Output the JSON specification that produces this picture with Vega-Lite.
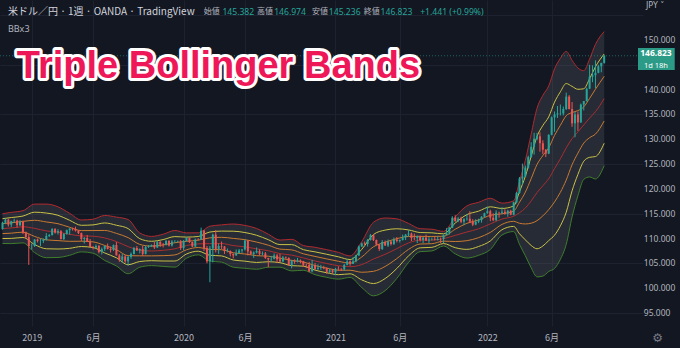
{
"$schema": "https://vega.github.io/schema/vega-lite/v6.json",
"width": 643, "height": 326, "autosize": "none",
"padding": {"left": 0, "top": 0, "right": 37, "bottom": 22},
"background": "#131722",
"config": {"view": {"stroke": null, "fill": "#131722"}, "font": "Noto Sans", "axis": {"labelFont": "Noto Sans CJK JP"}},
"datasets": {
"ticks": [{"v":95},{"v":100},{"v":105},{"v":110},{"v":115},{"v":120},{"v":125},{"v":130},{"v":135},{"v":140},{"v":150}],
"candles": [
{"d":"2018-10-29","o":111.9,"h":113.4,"l":111.8,"c":113.2},
{"d":"2018-11-05","o":113.2,"h":114.1,"l":112.9,"c":113.8},
{"d":"2018-11-12","o":113.8,"h":114.0,"l":112.4,"c":112.8},
{"d":"2018-11-19","o":112.8,"h":113.6,"l":112.3,"c":113.5},
{"d":"2018-11-26","o":113.5,"h":114.0,"l":113.2,"c":113.6},
{"d":"2018-12-03","o":113.6,"h":113.8,"l":112.2,"c":112.7},
{"d":"2018-12-10","o":112.7,"h":113.7,"l":112.5,"c":113.4},
{"d":"2018-12-17","o":113.4,"h":113.6,"l":110.9,"c":111.2},
{"d":"2018-12-24","o":111.2,"h":111.4,"l":110.0,"c":110.3},
{"d":"2018-12-31","o":110.3,"h":110.9,"l":104.7,"c":108.5},
{"d":"2019-01-07","o":108.5,"h":109.0,"l":107.8,"c":108.5},
{"d":"2019-01-14","o":108.5,"h":109.9,"l":108.3,"c":109.8},
{"d":"2019-01-21","o":109.8,"h":110.0,"l":109.2,"c":109.5},
{"d":"2019-01-28","o":109.5,"h":110.0,"l":108.5,"c":109.5},
{"d":"2019-02-04","o":109.5,"h":110.0,"l":109.1,"c":109.7},
{"d":"2019-02-11","o":109.7,"h":111.1,"l":109.6,"c":110.5},
{"d":"2019-02-18","o":110.5,"h":110.9,"l":110.3,"c":110.7},
{"d":"2019-02-25","o":110.7,"h":112.1,"l":110.6,"c":111.9},
{"d":"2019-03-04","o":111.9,"h":112.1,"l":111.0,"c":111.2},
{"d":"2019-03-11","o":111.2,"h":111.9,"l":110.8,"c":111.5},
{"d":"2019-03-18","o":111.5,"h":111.7,"l":109.8,"c":109.9},
{"d":"2019-03-25","o":109.9,"h":111.1,"l":109.7,"c":110.9},
{"d":"2019-04-01","o":110.9,"h":111.8,"l":110.8,"c":111.7},
{"d":"2019-04-08","o":111.7,"h":112.1,"l":110.8,"c":112.0},
{"d":"2019-04-15","o":112.0,"h":112.2,"l":111.6,"c":111.9},
{"d":"2019-04-22","o":111.9,"h":112.4,"l":111.4,"c":111.6},
{"d":"2019-04-29","o":111.6,"h":111.7,"l":110.9,"c":111.1},
{"d":"2019-05-06","o":111.1,"h":111.2,"l":109.5,"c":109.9},
{"d":"2019-05-13","o":109.9,"h":110.3,"l":109.0,"c":110.1},
{"d":"2019-05-20","o":110.1,"h":110.7,"l":109.3,"c":109.3},
{"d":"2019-05-27","o":109.3,"h":109.9,"l":108.3,"c":108.3},
{"d":"2019-06-03","o":108.3,"h":108.5,"l":107.8,"c":108.2},
{"d":"2019-06-10","o":108.2,"h":108.8,"l":108.0,"c":108.5},
{"d":"2019-06-17","o":108.5,"h":108.7,"l":107.0,"c":107.3},
{"d":"2019-06-24","o":107.3,"h":108.2,"l":106.8,"c":107.9},
{"d":"2019-07-01","o":107.9,"h":108.6,"l":107.5,"c":108.5},
{"d":"2019-07-08","o":108.5,"h":109.0,"l":107.8,"c":107.9},
{"d":"2019-07-15","o":107.9,"h":108.4,"l":107.2,"c":107.7},
{"d":"2019-07-22","o":107.7,"h":108.8,"l":107.5,"c":108.7},
{"d":"2019-07-29","o":108.7,"h":109.3,"l":106.6,"c":106.6},
{"d":"2019-08-05","o":106.6,"h":106.9,"l":105.3,"c":105.7},
{"d":"2019-08-12","o":105.7,"h":106.9,"l":105.1,"c":106.4},
{"d":"2019-08-19","o":106.4,"h":106.7,"l":105.1,"c":105.4},
{"d":"2019-08-26","o":105.4,"h":106.5,"l":104.5,"c":106.3},
{"d":"2019-09-02","o":106.3,"h":107.2,"l":105.9,"c":106.9},
{"d":"2019-09-09","o":106.9,"h":108.3,"l":106.8,"c":108.1},
{"d":"2019-09-16","o":108.1,"h":108.5,"l":107.5,"c":107.6},
{"d":"2019-09-23","o":107.6,"h":108.0,"l":107.0,"c":107.9},
{"d":"2019-09-30","o":107.9,"h":108.5,"l":106.5,"c":106.9},
{"d":"2019-10-07","o":106.9,"h":108.6,"l":106.8,"c":108.3},
{"d":"2019-10-14","o":108.3,"h":108.7,"l":108.1,"c":108.4},
{"d":"2019-10-21","o":108.4,"h":108.8,"l":108.3,"c":108.7},
{"d":"2019-10-28","o":108.7,"h":109.3,"l":107.9,"c":108.2},
{"d":"2019-11-04","o":108.2,"h":109.5,"l":108.1,"c":109.3},
{"d":"2019-11-11","o":109.3,"h":109.5,"l":108.3,"c":108.8},
{"d":"2019-11-18","o":108.8,"h":109.1,"l":108.2,"c":108.7},
{"d":"2019-11-25","o":108.7,"h":109.7,"l":108.6,"c":109.5},
{"d":"2019-12-02","o":109.5,"h":109.7,"l":108.4,"c":108.6},
{"d":"2019-12-09","o":108.6,"h":109.7,"l":108.4,"c":109.4},
{"d":"2019-12-16","o":109.4,"h":109.7,"l":109.2,"c":109.4},
{"d":"2019-12-23","o":109.4,"h":109.6,"l":109.2,"c":109.45},
{"d":"2019-12-30","o":109.4,"h":109.7,"l":107.7,"c":108.1},
{"d":"2020-01-06","o":108.1,"h":109.7,"l":107.6,"c":109.5},
{"d":"2020-01-13","o":109.5,"h":110.3,"l":109.4,"c":110.1},
{"d":"2020-01-20","o":110.1,"h":110.2,"l":109.1,"c":109.3},
{"d":"2020-01-27","o":109.3,"h":109.4,"l":108.3,"c":108.4},
{"d":"2020-02-03","o":108.4,"h":110.0,"l":108.3,"c":109.8},
{"d":"2020-02-10","o":109.8,"h":110.1,"l":109.6,"c":109.75},
{"d":"2020-02-17","o":109.8,"h":112.2,"l":109.7,"c":111.6},
{"d":"2020-02-24","o":111.6,"h":111.7,"l":107.5,"c":108.1},
{"d":"2020-03-02","o":108.1,"h":108.5,"l":105.0,"c":105.4},
{"d":"2020-03-09","o":105.4,"h":108.5,"l":101.2,"c":108.0},
{"d":"2020-03-16","o":108.0,"h":111.0,"l":105.2,"c":110.8},
{"d":"2020-03-23","o":110.8,"h":111.7,"l":107.2,"c":107.9},
{"d":"2020-03-30","o":107.9,"h":109.0,"l":106.9,"c":108.5},
{"d":"2020-04-06","o":108.5,"h":109.4,"l":107.9,"c":108.4},
{"d":"2020-04-13","o":108.4,"h":108.5,"l":106.9,"c":107.5},
{"d":"2020-04-20","o":107.5,"h":108.0,"l":107.2,"c":107.55},
{"d":"2020-04-27","o":107.5,"h":107.6,"l":106.4,"c":106.9},
{"d":"2020-05-04","o":106.9,"h":107.0,"l":106.0,"c":106.6},
{"d":"2020-05-11","o":106.6,"h":107.8,"l":106.5,"c":107.1},
{"d":"2020-05-18","o":107.1,"h":107.9,"l":107.0,"c":107.6},
{"d":"2020-05-25","o":107.6,"h":107.9,"l":107.1,"c":107.8},
{"d":"2020-06-01","o":107.8,"h":109.8,"l":107.6,"c":109.6},
{"d":"2020-06-08","o":109.6,"h":109.7,"l":106.6,"c":107.4},
{"d":"2020-06-15","o":107.4,"h":107.6,"l":106.7,"c":106.9},
{"d":"2020-06-22","o":106.9,"h":107.4,"l":106.1,"c":107.2},
{"d":"2020-06-29","o":107.2,"h":108.2,"l":107.0,"c":107.5},
{"d":"2020-07-06","o":107.5,"h":107.8,"l":106.6,"c":106.9},
{"d":"2020-07-13","o":106.9,"h":107.4,"l":106.6,"c":107.0},
{"d":"2020-07-20","o":107.0,"h":107.3,"l":105.9,"c":106.1},
{"d":"2020-07-27","o":106.1,"h":106.1,"l":104.2,"c":105.8},
{"d":"2020-08-03","o":105.8,"h":106.5,"l":105.3,"c":105.9},
{"d":"2020-08-10","o":105.9,"h":107.0,"l":105.8,"c":106.6},
{"d":"2020-08-17","o":106.6,"h":106.9,"l":105.1,"c":105.8},
{"d":"2020-08-24","o":105.8,"h":106.9,"l":105.2,"c":105.4},
{"d":"2020-08-31","o":105.4,"h":106.5,"l":105.2,"c":106.2},
{"d":"2020-09-07","o":106.2,"h":106.4,"l":105.9,"c":106.1},
{"d":"2020-09-14","o":106.1,"h":106.2,"l":104.6,"c":104.6},
{"d":"2020-09-21","o":104.6,"h":105.7,"l":104.0,"c":105.6},
{"d":"2020-09-28","o":105.6,"h":105.8,"l":104.9,"c":105.3},
{"d":"2020-10-05","o":105.3,"h":106.1,"l":105.2,"c":105.6},
{"d":"2020-10-12","o":105.6,"h":105.8,"l":105.0,"c":105.4},
{"d":"2020-10-19","o":105.4,"h":105.5,"l":104.3,"c":104.7},
{"d":"2020-10-26","o":104.7,"h":104.9,"l":104.0,"c":104.65},
{"d":"2020-11-02","o":104.7,"h":105.3,"l":103.2,"c":103.4},
{"d":"2020-11-09","o":103.4,"h":105.7,"l":103.2,"c":104.6},
{"d":"2020-11-16","o":104.6,"h":105.1,"l":103.7,"c":103.9},
{"d":"2020-11-23","o":103.9,"h":104.8,"l":103.7,"c":104.1},
{"d":"2020-11-30","o":104.1,"h":104.7,"l":103.7,"c":104.2},
{"d":"2020-12-07","o":104.2,"h":104.5,"l":103.8,"c":104.0},
{"d":"2020-12-14","o":104.0,"h":104.2,"l":102.9,"c":103.3},
{"d":"2020-12-21","o":103.3,"h":103.9,"l":103.0,"c":103.6},
{"d":"2020-12-28","o":103.6,"h":103.9,"l":102.9,"c":103.2},
{"d":"2021-01-04","o":103.2,"h":104.1,"l":102.6,"c":103.9},
{"d":"2021-01-11","o":103.9,"h":104.4,"l":103.5,"c":103.85},
{"d":"2021-01-18","o":103.9,"h":104.0,"l":103.5,"c":103.8},
{"d":"2021-01-25","o":103.8,"h":104.9,"l":103.5,"c":104.7},
{"d":"2021-02-01","o":104.7,"h":105.8,"l":104.6,"c":105.4},
{"d":"2021-02-08","o":105.4,"h":105.6,"l":104.5,"c":104.9},
{"d":"2021-02-15","o":104.9,"h":106.2,"l":104.9,"c":105.4},
{"d":"2021-02-22","o":105.4,"h":106.7,"l":105.2,"c":106.6},
{"d":"2021-03-01","o":106.6,"h":108.6,"l":106.5,"c":108.4},
{"d":"2021-03-08","o":108.4,"h":109.2,"l":108.3,"c":109.0},
{"d":"2021-03-15","o":109.0,"h":109.4,"l":108.6,"c":108.9},
{"d":"2021-03-22","o":108.9,"h":109.9,"l":108.4,"c":109.7},
{"d":"2021-03-29","o":109.7,"h":110.9,"l":109.6,"c":110.7},
{"d":"2021-04-05","o":110.7,"h":110.9,"l":109.5,"c":109.7},
{"d":"2021-04-12","o":109.7,"h":109.8,"l":108.6,"c":108.8},
{"d":"2021-04-19","o":108.8,"h":108.9,"l":107.5,"c":107.9},
{"d":"2021-04-26","o":107.9,"h":109.7,"l":107.7,"c":109.3},
{"d":"2021-05-03","o":109.3,"h":109.6,"l":108.5,"c":108.6},
{"d":"2021-05-10","o":108.6,"h":109.8,"l":108.3,"c":109.4},
{"d":"2021-05-17","o":109.4,"h":109.5,"l":108.6,"c":108.9},
{"d":"2021-05-24","o":108.9,"h":110.2,"l":108.7,"c":109.8},
{"d":"2021-05-31","o":109.8,"h":110.3,"l":109.2,"c":109.5},
{"d":"2021-06-07","o":109.5,"h":109.8,"l":109.2,"c":109.7},
{"d":"2021-06-14","o":109.7,"h":110.8,"l":109.6,"c":110.2},
{"d":"2021-06-21","o":110.2,"h":110.9,"l":109.7,"c":110.8},
{"d":"2021-06-28","o":110.8,"h":111.7,"l":110.4,"c":111.0},
{"d":"2021-07-05","o":111.0,"h":111.2,"l":109.5,"c":110.1},
{"d":"2021-07-12","o":110.1,"h":111.0,"l":109.7,"c":110.05},
{"d":"2021-07-19","o":110.1,"h":110.6,"l":109.1,"c":110.5},
{"d":"2021-07-26","o":110.5,"h":110.6,"l":109.4,"c":109.7},
{"d":"2021-08-02","o":109.7,"h":110.3,"l":109.1,"c":110.2},
{"d":"2021-08-09","o":110.2,"h":110.8,"l":109.5,"c":109.6},
{"d":"2021-08-16","o":109.6,"h":110.3,"l":109.1,"c":109.8},
{"d":"2021-08-23","o":109.8,"h":110.2,"l":109.6,"c":109.85},
{"d":"2021-08-30","o":109.8,"h":110.4,"l":109.6,"c":109.7},
{"d":"2021-09-06","o":109.7,"h":110.4,"l":109.6,"c":109.9},
{"d":"2021-09-13","o":109.9,"h":110.2,"l":109.1,"c":109.85},
{"d":"2021-09-20","o":109.9,"h":110.8,"l":109.1,"c":110.7},
{"d":"2021-09-27","o":110.7,"h":112.1,"l":110.7,"c":111.1},
{"d":"2021-10-04","o":111.1,"h":112.3,"l":110.8,"c":112.2},
{"d":"2021-10-11","o":112.2,"h":114.5,"l":112.1,"c":114.2},
{"d":"2021-10-18","o":114.2,"h":114.7,"l":113.4,"c":113.5},
{"d":"2021-10-25","o":113.5,"h":114.3,"l":113.3,"c":114.0},
{"d":"2021-11-01","o":114.0,"h":114.4,"l":113.1,"c":113.4},
{"d":"2021-11-08","o":113.4,"h":114.1,"l":112.7,"c":113.9},
{"d":"2021-11-15","o":113.9,"h":114.9,"l":113.6,"c":114.0},
{"d":"2021-11-22","o":114.0,"h":115.5,"l":113.1,"c":113.4},
{"d":"2021-11-29","o":113.4,"h":113.9,"l":112.5,"c":112.8},
{"d":"2021-12-06","o":112.8,"h":113.9,"l":112.7,"c":113.4},
{"d":"2021-12-13","o":113.4,"h":114.0,"l":113.1,"c":113.7},
{"d":"2021-12-20","o":113.7,"h":114.5,"l":113.2,"c":114.4},
{"d":"2021-12-27","o":114.4,"h":115.2,"l":114.3,"c":115.1},
{"d":"2022-01-03","o":115.1,"h":116.4,"l":115.0,"c":115.5},
{"d":"2022-01-10","o":115.5,"h":115.8,"l":113.5,"c":114.2},
{"d":"2022-01-17","o":114.2,"h":115.1,"l":113.5,"c":113.7},
{"d":"2022-01-24","o":113.7,"h":115.7,"l":113.5,"c":115.2},
{"d":"2022-01-31","o":115.2,"h":115.4,"l":114.2,"c":115.15},
{"d":"2022-02-07","o":115.2,"h":116.3,"l":114.9,"c":115.4},
{"d":"2022-02-14","o":115.4,"h":115.9,"l":114.8,"c":115.0},
{"d":"2022-02-21","o":115.0,"h":115.8,"l":114.4,"c":115.6},
{"d":"2022-02-28","o":115.6,"h":115.8,"l":114.7,"c":114.8},
{"d":"2022-03-07","o":114.8,"h":117.4,"l":114.7,"c":117.3},
{"d":"2022-03-14","o":117.3,"h":119.4,"l":117.1,"c":119.2},
{"d":"2022-03-21","o":119.2,"h":122.4,"l":119.0,"c":122.1},
{"d":"2022-03-28","o":122.1,"h":125.1,"l":121.0,"c":122.5},
{"d":"2022-04-04","o":122.5,"h":124.7,"l":122.4,"c":124.3},
{"d":"2022-04-11","o":124.3,"h":126.7,"l":124.1,"c":126.4},
{"d":"2022-04-18","o":126.4,"h":129.4,"l":126.3,"c":128.5},
{"d":"2022-04-25","o":128.5,"h":131.3,"l":126.9,"c":130.1},
{"d":"2022-05-02","o":130.1,"h":131.3,"l":129.8,"c":130.6},
{"d":"2022-05-09","o":130.6,"h":131.4,"l":127.5,"c":129.2},
{"d":"2022-05-16","o":129.2,"h":129.8,"l":127.0,"c":127.9},
{"d":"2022-05-23","o":127.9,"h":128.0,"l":126.4,"c":127.1},
{"d":"2022-05-30","o":127.1,"h":131.0,"l":127.0,"c":130.9},
{"d":"2022-06-06","o":130.9,"h":134.6,"l":130.8,"c":134.4},
{"d":"2022-06-13","o":134.4,"h":135.6,"l":131.5,"c":135.0},
{"d":"2022-06-20","o":135.0,"h":136.7,"l":134.3,"c":135.2},
{"d":"2022-06-27","o":135.2,"h":137.0,"l":134.8,"c":135.25},
{"d":"2022-07-04","o":135.2,"h":136.6,"l":134.8,"c":136.1},
{"d":"2022-07-11","o":136.1,"h":139.4,"l":135.9,"c":138.6},
{"d":"2022-07-18","o":138.6,"h":138.9,"l":136.0,"c":136.1},
{"d":"2022-07-25","o":136.1,"h":137.5,"l":132.5,"c":133.2},
{"d":"2022-08-01","o":133.2,"h":135.6,"l":130.4,"c":135.0},
{"d":"2022-08-08","o":135.0,"h":135.6,"l":131.7,"c":133.4},
{"d":"2022-08-15","o":133.4,"h":137.2,"l":133.3,"c":137.0},
{"d":"2022-08-22","o":137.0,"h":137.7,"l":135.8,"c":137.7},
{"d":"2022-08-29","o":137.7,"h":140.4,"l":137.6,"c":140.2},
{"d":"2022-09-05","o":140.2,"h":145.0,"l":140.1,"c":142.6},
{"d":"2022-09-12","o":142.6,"h":144.9,"l":141.5,"c":142.9},
{"d":"2022-09-19","o":142.9,"h":145.9,"l":140.3,"c":143.4},
{"d":"2022-09-26","o":143.4,"h":145.0,"l":143.3,"c":144.7},
{"d":"2022-10-03","o":144.7,"h":145.4,"l":143.5,"c":145.4},
{"d":"2022-10-10","o":145.382,"h":146.974,"l":145.236,"c":146.823}
],
"bands": [
{"d":"2018-10-29","u3":115.0,"u2":114.0,"u1":113.0,"m":112.0,"l1":111.0,"l2":110.0,"l3":109.0},
{"d":"2018-11-19","u3":115.28,"u2":114.23,"u1":113.18,"m":112.13,"l1":111.08,"l2":110.03,"l3":108.98},
{"d":"2018-12-17","u3":115.61,"u2":114.53,"u1":113.45,"m":112.37,"l1":111.29,"l2":110.21,"l3":109.13},
{"d":"2019-01-14","u3":116.94,"u2":115.31,"u1":113.68,"m":112.05,"l1":110.42,"l2":108.79,"l3":107.16},
{"d":"2019-02-11","u3":116.94,"u2":115.14,"u1":113.34,"m":111.54,"l1":109.74,"l2":107.94,"l3":106.14},
{"d":"2019-03-11","u3":116.39,"u2":114.69,"u1":112.99,"m":111.29,"l1":109.59,"l2":107.89,"l3":106.19},
{"d":"2019-04-08","u3":115.08,"u2":113.67,"u1":112.26,"m":110.85,"l1":109.44,"l2":108.03,"l3":106.62},
{"d":"2019-05-06","u3":113.74,"u2":112.67,"u1":111.6,"m":110.53,"l1":109.46,"l2":108.39,"l3":107.32},
{"d":"2019-06-03","u3":113.89,"u2":112.75,"u1":111.61,"m":110.47,"l1":109.33,"l2":108.19,"l3":107.05},
{"d":"2019-07-01","u3":114.65,"u2":113.14,"u1":111.63,"m":110.12,"l1":108.61,"l2":107.1,"l3":105.59},
{"d":"2019-07-29","u3":114.32,"u2":112.68,"u1":111.04,"m":109.4,"l1":107.76,"l2":106.12,"l3":104.48},
{"d":"2019-08-26","u3":113.83,"u2":112.01,"u1":110.19,"m":108.37,"l1":106.55,"l2":104.73,"l3":102.91},
{"d":"2019-09-23","u3":111.12,"u2":109.97,"u1":108.82,"m":107.67,"l1":106.52,"l2":105.37,"l3":104.22},
{"d":"2019-10-21","u3":110.43,"u2":109.45,"u1":108.47,"m":107.49,"l1":106.51,"l2":105.53,"l3":104.55},
{"d":"2019-11-18","u3":110.87,"u2":109.79,"u1":108.71,"m":107.63,"l1":106.55,"l2":105.47,"l3":104.39},
{"d":"2019-12-16","u3":111.62,"u2":110.39,"u1":109.16,"m":107.93,"l1":106.7,"l2":105.47,"l3":104.24},
{"d":"2020-01-13","u3":111.14,"u2":110.29,"u1":109.44,"m":108.59,"l1":107.74,"l2":106.89,"l3":106.04},
{"d":"2020-02-10","u3":111.15,"u2":110.41,"u1":109.67,"m":108.93,"l1":108.19,"l2":107.45,"l3":106.71},
{"d":"2020-03-09","u3":112.48,"u2":111.31,"u1":110.14,"m":108.97,"l1":107.8,"l2":106.63,"l3":105.46},
{"d":"2020-04-06","u3":112.75,"u2":111.5,"u1":110.25,"m":109.0,"l1":107.75,"l2":106.5,"l3":105.25},
{"d":"2020-05-04","u3":112.93,"u2":111.48,"u1":110.03,"m":108.58,"l1":107.13,"l2":105.68,"l3":104.23},
{"d":"2020-06-01","u3":112.65,"u2":111.21,"u1":109.77,"m":108.33,"l1":106.89,"l2":105.45,"l3":104.01},
{"d":"2020-06-29","u3":112.03,"u2":110.66,"u1":109.29,"m":107.92,"l1":106.55,"l2":105.18,"l3":103.81},
{"d":"2020-07-27","u3":110.88,"u2":109.77,"u1":108.66,"m":107.55,"l1":106.44,"l2":105.33,"l3":104.22},
{"d":"2020-08-24","u3":109.69,"u2":108.78,"u1":107.87,"m":106.96,"l1":106.05,"l2":105.14,"l3":104.23},
{"d":"2020-09-21","u3":109.84,"u2":108.78,"u1":107.72,"m":106.66,"l1":105.6,"l2":104.54,"l3":103.48},
{"d":"2020-10-19","u3":108.59,"u2":107.76,"u1":106.93,"m":106.1,"l1":105.27,"l2":104.44,"l3":103.61},
{"d":"2020-11-16","u3":108.24,"u2":107.32,"u1":106.4,"m":105.48,"l1":104.56,"l2":103.64,"l3":102.72},
{"d":"2020-12-14","u3":107.76,"u2":106.83,"u1":105.9,"m":104.97,"l1":104.04,"l2":103.11,"l3":102.18},
{"d":"2021-01-11","u3":107.22,"u2":106.32,"u1":105.42,"m":104.52,"l1":103.62,"l2":102.72,"l3":101.82},
{"d":"2021-02-08","u3":106.49,"u2":105.77,"u1":105.05,"m":104.33,"l1":103.61,"l2":102.89,"l3":102.17},
{"d":"2021-03-08","u3":109.37,"u2":107.83,"u1":106.29,"m":104.75,"l1":103.21,"l2":101.67,"l3":100.13},
{"d":"2021-04-05","u3":113.28,"u2":110.81,"u1":108.34,"m":105.87,"l1":103.4,"l2":100.93,"l3":98.46},
{"d":"2021-05-03","u3":114.14,"u2":111.7,"u1":109.26,"m":106.82,"l1":104.38,"l2":101.94,"l3":99.5},
{"d":"2021-05-31","u3":113.97,"u2":111.97,"u1":109.97,"m":107.97,"l1":105.97,"l2":103.97,"l3":101.97},
{"d":"2021-06-28","u3":113.05,"u2":111.74,"u1":110.43,"m":109.12,"l1":107.81,"l2":106.5,"l3":105.19},
{"d":"2021-07-26","u3":111.98,"u2":111.21,"u1":110.44,"m":109.67,"l1":108.9,"l2":108.13,"l3":107.36},
{"d":"2021-08-23","u3":111.88,"u2":111.15,"u1":110.42,"m":109.69,"l1":108.96,"l2":108.23,"l3":107.5},
{"d":"2021-09-20","u3":111.44,"u2":110.95,"u1":110.46,"m":109.97,"l1":109.48,"l2":108.99,"l3":108.5},
{"d":"2021-10-18","u3":114.36,"u2":113.12,"u1":111.88,"m":110.64,"l1":109.4,"l2":108.16,"l3":106.92},
{"d":"2021-11-15","u3":116.57,"u2":114.82,"u1":113.07,"m":111.32,"l1":109.57,"l2":107.82,"l3":106.07},
{"d":"2021-12-13","u3":117.3,"u2":115.52,"u1":113.74,"m":111.96,"l1":110.18,"l2":108.4,"l3":106.62},
{"d":"2022-01-10","u3":118.11,"u2":116.39,"u1":114.67,"m":112.95,"l1":111.23,"l2":109.51,"l3":107.79},
{"d":"2022-02-07","u3":117.13,"u2":116.06,"u1":114.99,"m":113.92,"l1":112.85,"l2":111.78,"l3":110.71},
{"d":"2022-03-07","u3":117.59,"u2":116.56,"u1":115.53,"m":114.5,"l1":113.47,"l2":112.44,"l3":111.41},
{"d":"2022-03-21","u3":121.56,"u2":119.44,"u1":117.32,"m":115.2,"l1":113.08,"l2":110.96,"l3":108.84},
{"d":"2022-04-04","u3":125.74,"u2":122.54,"u1":119.34,"m":116.14,"l1":112.94,"l2":109.74,"l3":106.54},
{"d":"2022-04-18","u3":131.05,"u2":126.56,"u1":122.07,"m":117.58,"l1":113.09,"l2":108.6,"l3":104.11},
{"d":"2022-05-02","u3":136.24,"u2":130.58,"u1":124.92,"m":119.26,"l1":113.6,"l2":107.94,"l3":102.28},
{"d":"2022-05-16","u3":138.85,"u2":132.78,"u1":126.71,"m":120.64,"l1":114.57,"l2":108.5,"l3":102.43},
{"d":"2022-05-30","u3":140.74,"u2":134.51,"u1":128.28,"m":122.05,"l1":115.82,"l2":109.59,"l3":103.36},
{"d":"2022-06-13","u3":144.18,"u2":137.48,"u1":130.78,"m":124.08,"l1":117.38,"l2":110.68,"l3":103.98},
{"d":"2022-06-27","u3":146.32,"u2":139.57,"u1":132.82,"m":126.07,"l1":119.32,"l2":112.57,"l3":105.82},
{"d":"2022-07-11","u3":147.71,"u2":141.23,"u1":134.75,"m":128.27,"l1":121.79,"l2":115.31,"l3":108.83},
{"d":"2022-07-25","u3":145.91,"u2":140.65,"u1":135.39,"m":130.13,"l1":124.87,"l2":119.61,"l3":114.35},
{"d":"2022-08-08","u3":144.36,"u2":140.07,"u1":135.78,"m":131.49,"l1":127.2,"l2":122.91,"l3":118.62},
{"d":"2022-08-22","u3":143.83,"u2":140.18,"u1":136.53,"m":132.88,"l1":129.23,"l2":125.58,"l3":121.93},
{"d":"2022-09-05","u3":146.16,"u2":142.2,"u1":138.24,"m":134.28,"l1":130.32,"l2":126.36,"l3":122.4},
{"d":"2022-09-19","u3":149.12,"u2":144.6,"u1":140.08,"m":135.56,"l1":131.04,"l2":126.52,"l3":122.0},
{"d":"2022-10-10","u3":151.69,"u2":147.19,"u1":142.69,"m":138.19,"l1":133.69,"l2":129.19,"l3":124.69}
]
},
"layer": [
{"data": {"name": "bands"},
 "mark": {"type": "area", "interpolate": "monotone", "color": "#787b86", "opacity": 0.2},
 "encoding": {
  "x": {"field": "d", "type": "temporal",
   "scale": {"type": "utc", "domain": [{"year": 2018, "month": 11, "date": 4, "utc": true}, {"year": 2022, "month": 12, "date": 30, "utc": true}]},
   "axis": {"title": null, "orient": "bottom", "values": [{"year": 2019, "month": 1, "date": 7, "utc": true}, {"year": 2019, "month": 6, "date": 3, "utc": true}, {"year": 2020, "month": 1, "date": 6, "utc": true}, {"year": 2020, "month": 6, "date": 1, "utc": true}, {"year": 2021, "month": 1, "date": 4, "utc": true}, {"year": 2021, "month": 6, "date": 7, "utc": true}, {"year": 2022, "month": 1, "date": 3, "utc": true}, {"year": 2022, "month": 6, "date": 6, "utc": true}],
    "labelExpr": "utcmonth(datum.value) == 0 ? '' + utcyear(datum.value) : '6月'",
    "grid": true, "gridColor": "#1e2230", "domain": false, "ticks": false, "labelColor": "#b2b5be", "labelFontSize": 9, "labelPadding": 7, "labelFlush": false, "labelOverlap": false}},
  "y": {"field": "u3", "type": "quantitative",
   "scale": {"domain": [92.38, 158.06], "nice": false, "zero": false},
   "axis": {"title": null, "orient": "right", "values": [95, 100, 105, 110, 115, 120, 125, 130, 135, 140, 145, 150, 155], "grid": true, "gridColor": "#1e2230", "domain": false, "ticks": false, "labels": false}},
  "y2": {"field": "l3"}}},
{"data": {"name": "bands"}, "mark": {"type": "line", "interpolate": "monotone", "color": "#b02a2e", "strokeWidth": 1},
 "encoding": {"x": {"field": "d", "type": "temporal"}, "y": {"field": "u3", "type": "quantitative"}}},
{"data": {"name": "bands"}, "mark": {"type": "line", "interpolate": "monotone", "color": "#c9c245", "strokeWidth": 1},
 "encoding": {"x": {"field": "d", "type": "temporal"}, "y": {"field": "u2", "type": "quantitative"}}},
{"data": {"name": "bands"}, "mark": {"type": "line", "interpolate": "monotone", "color": "#c87a30", "strokeWidth": 1},
 "encoding": {"x": {"field": "d", "type": "temporal"}, "y": {"field": "u1", "type": "quantitative"}}},
{"data": {"name": "bands"}, "mark": {"type": "line", "interpolate": "monotone", "color": "#a82e30", "strokeWidth": 1},
 "encoding": {"x": {"field": "d", "type": "temporal"}, "y": {"field": "m", "type": "quantitative"}}},
{"data": {"name": "bands"}, "mark": {"type": "line", "interpolate": "monotone", "color": "#c87a30", "strokeWidth": 1},
 "encoding": {"x": {"field": "d", "type": "temporal"}, "y": {"field": "l1", "type": "quantitative"}}},
{"data": {"name": "bands"}, "mark": {"type": "line", "interpolate": "monotone", "color": "#c9c245", "strokeWidth": 1},
 "encoding": {"x": {"field": "d", "type": "temporal"}, "y": {"field": "l2", "type": "quantitative"}}},
{"data": {"name": "bands"}, "mark": {"type": "line", "interpolate": "monotone", "color": "#3f7d2c", "strokeWidth": 1},
 "encoding": {"x": {"field": "d", "type": "temporal"}, "y": {"field": "l3", "type": "quantitative"}}},
{"data": {"values": [{}]}, "mark": {"type": "rule", "color": "#26a69a", "opacity": 0.55, "strokeDash": [1, 2], "strokeWidth": 1},
 "encoding": {"y": {"datum": 146.823}}},
{"data": {"name": "candles"}, "mark": {"type": "rule", "strokeWidth": 1},
 "encoding": {"x": {"field": "d", "type": "temporal"}, "y": {"field": "l", "type": "quantitative"}, "y2": {"field": "h"},
  "color": {"condition": {"test": "datum.c >= datum.o", "value": "#26a69a"}, "value": "#ef5350"}}},
{"data": {"name": "candles"}, "mark": {"type": "bar", "width": 2},
 "encoding": {"x": {"field": "d", "type": "temporal"}, "y": {"field": "o", "type": "quantitative"}, "y2": {"field": "c"},
  "color": {"condition": {"test": "datum.c >= datum.o", "value": "#26a69a"}, "value": "#ef5350"}}},
{"data": {"name": "ticks"}, "mark": {"type": "text", "fontSize": 8.5, "color": "#b2b5be", "align": "left", "baseline": "middle"},
 "encoding": {"x": {"datum": {"year": 2023, "month": 1, "date": 13, "utc": true}, "type": "temporal"}, "y": {"field": "v", "type": "quantitative"}, "text": {"field": "v", "type": "quantitative", "format": ".3f"}}},
{"data": {"values": [{}]}, "mark": {"type": "text", "text": "米ドル／円 · 1週 · OANDA · TradingView", "font": "Noto Sans CJK JP", "fontSize": 10, "color": "#d1d4dc", "align": "left", "baseline": "middle"},
 "encoding": {"x": {"datum": {"year": 2018, "month": 11, "date": 11, "utc": true}, "type": "temporal"}, "y": {"datum": 155.64}}},
{"data": {"values": [{}]}, "mark": {"type": "text", "text": "BBx3", "fontSize": 9, "color": "#b2b5be", "align": "left", "baseline": "middle"},
 "encoding": {"x": {"datum": {"year": 2018, "month": 11, "date": 11, "utc": true}, "type": "temporal"}, "y": {"datum": 152.2}}},
{"data": {"values": [{}]}, "mark": {"type": "text", "text": "始値", "font": "Noto Sans CJK JP", "fontSize": 8, "color": "#b2b5be", "align": "left", "baseline": "middle"},
 "encoding": {"x": {"datum": {"year": 2020, "month": 2, "date": 23, "hours": 14, "utc": true}, "type": "temporal"}, "y": {"datum": 155.64}}},
{"data": {"values": [{}]}, "mark": {"type": "text", "text": "145.382", "fontSize": 8.6, "color": "#26a69a", "align": "left", "baseline": "middle"},
 "encoding": {"x": {"datum": {"year": 2020, "month": 4, "date": 8, "utc": true}, "type": "temporal"}, "y": {"datum": 155.64}}},
{"data": {"values": [{}]}, "mark": {"type": "text", "text": "高値", "font": "Noto Sans CJK JP", "fontSize": 8, "color": "#b2b5be", "align": "left", "baseline": "middle"},
 "encoding": {"x": {"datum": {"year": 2020, "month": 6, "date": 30, "utc": true}, "type": "temporal"}, "y": {"datum": 155.64}}},
{"data": {"values": [{}]}, "mark": {"type": "text", "text": "146.974", "fontSize": 8.6, "color": "#26a69a", "align": "left", "baseline": "middle"},
 "encoding": {"x": {"datum": {"year": 2020, "month": 8, "date": 10, "utc": true}, "type": "temporal"}, "y": {"datum": 155.64}}},
{"data": {"values": [{}]}, "mark": {"type": "text", "text": "安値", "font": "Noto Sans CJK JP", "fontSize": 8, "color": "#b2b5be", "align": "left", "baseline": "middle"},
 "encoding": {"x": {"datum": {"year": 2020, "month": 11, "date": 9, "utc": true}, "type": "temporal"}, "y": {"datum": 155.64}}},
{"data": {"values": [{}]}, "mark": {"type": "text", "text": "145.236", "fontSize": 8.6, "color": "#26a69a", "align": "left", "baseline": "middle"},
 "encoding": {"x": {"datum": {"year": 2020, "month": 12, "date": 19, "utc": true}, "type": "temporal"}, "y": {"datum": 155.64}}},
{"data": {"values": [{}]}, "mark": {"type": "text", "text": "終値", "font": "Noto Sans CJK JP", "fontSize": 8, "color": "#b2b5be", "align": "left", "baseline": "middle"},
 "encoding": {"x": {"datum": {"year": 2021, "month": 3, "date": 13, "utc": true}, "type": "temporal"}, "y": {"datum": 155.64}}},
{"data": {"values": [{}]}, "mark": {"type": "text", "text": "146.823", "fontSize": 8.6, "color": "#26a69a", "align": "left", "baseline": "middle"},
 "encoding": {"x": {"datum": {"year": 2021, "month": 4, "date": 22, "utc": true}, "type": "temporal"}, "y": {"datum": 155.64}}},
{"data": {"values": [{}]}, "mark": {"type": "text", "text": "+1.441 (+0.99%)", "fontSize": 8.6, "color": "#26a69a", "align": "left", "baseline": "middle"},
 "encoding": {"x": {"datum": {"year": 2021, "month": 7, "date": 26, "utc": true}, "type": "temporal"}, "y": {"datum": 155.64}}},
{"data": {"values": [{}]}, "mark": {"type": "text", "text": "Triple Bollinger Bands", "font": "Liberation Sans", "fontWeight": "bold", "fontSize": 38, "color": "#ffffff", "stroke": "#ffffff", "strokeWidth": 6, "strokeJoin": "round", "align": "left", "baseline": "alphabetic"},
 "encoding": {"x": {"datum": {"year": 2018, "month": 12, "date": 2, "hours": 7, "utc": true}, "type": "temporal"}, "y": {"datum": 142.35}}},
{"data": {"values": [{}]}, "mark": {"type": "text", "text": "Triple Bollinger Bands", "font": "Liberation Sans", "fontWeight": "bold", "fontSize": 38, "color": "#ee1858", "align": "left", "baseline": "alphabetic"},
 "encoding": {"x": {"datum": {"year": 2018, "month": 12, "date": 2, "hours": 7, "utc": true}, "type": "temporal"}, "y": {"datum": 142.35}}},
{"data": {"values": [{}]}, "mark": {"type": "rect", "color": "#2b9a86"},
 "encoding": {"x": {"datum": {"year": 2022, "month": 12, "date": 30, "utc": true}, "type": "temporal"}, "x2": {"datum": {"year": 2023, "month": 3, "date": 28, "utc": true}}, "y": {"datum": 148.39}, "y2": {"datum": 143.96}}},
{"data": {"values": [{}]}, "mark": {"type": "text", "text": "146.823", "fontSize": 8.5, "fontWeight": "bold", "color": "#ffffff", "align": "center", "baseline": "middle"},
 "encoding": {"x": {"datum": {"year": 2023, "month": 2, "date": 11, "utc": true}, "type": "temporal"}, "y": {"datum": 147.3}}},
{"data": {"values": [{}]}, "mark": {"type": "text", "text": "1d 18h", "fontSize": 7.5, "color": "#ffffff", "align": "center", "baseline": "middle"},
 "encoding": {"x": {"datum": {"year": 2023, "month": 2, "date": 11, "utc": true}, "type": "temporal"}, "y": {"datum": 144.75}}},
{"data": {"values": [{}]}, "mark": {"type": "text", "text": "JPY ˅", "font": "DejaVu Sans", "fontSize": 8, "color": "#b2b5be", "align": "left", "baseline": "middle"},
 "encoding": {"x": {"datum": {"year": 2023, "month": 1, "date": 18, "utc": true}, "type": "temporal"}, "y": {"datum": 156.85}}},
{"data": {"values": [{}]}, "mark": {"type": "text", "text": "⚙", "font": "DejaVu Sans", "fontSize": 12, "color": "#787b86", "align": "center", "baseline": "middle"},
 "encoding": {"x": {"datum": {"year": 2023, "month": 2, "date": 15, "utc": true}, "type": "temporal"}, "y": {"datum": 89.96}}}
]
}
